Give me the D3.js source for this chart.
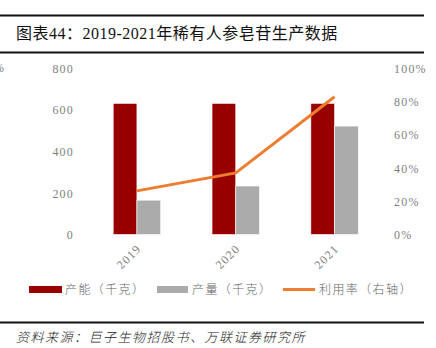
<!DOCTYPE html>
<html><head><meta charset="utf-8">
<script src="https://cdn.jsdelivr.net/npm/d3@7"></script>
<style>
html,body{margin:0;padding:0;background:#fff;}
svg{display:block;}
</style></head>
<body>
<svg id="c" width="436" height="348"></svg>
<script>
const years = ["2019", "2020", "2021"];
const capacity = [630, 630, 630];      // 产能（千克）
const output = [165, 233, 521];        // 产量（千克）
const utilization = [0.262, 0.37, 0.827]; // 利用率（右轴）
const leftTicks = [0, 200, 400, 600, 800];
const rightTicks = [0, 0.2, 0.4, 0.6, 0.8, 1.0];
const seriesNames = ["产能（千克）", "产量（千克）", "利用率（右轴）"];
const titleText = "图表44：2019-2021年稀有人参皂苷生产数据";
const sourceText = "资料来源：巨子生物招股书、万联证券研究所";

const colors = {cap: "#980000", out: "#ababab", util: "#ED7D31", text: "#7f7f7f"};
const numFont = "'Liberation Serif', 'Times New Roman', serif";
const cjkFont = "'Liberation Serif', 'Noto Sans CJK SC', serif";

const svg = d3.select("#c");

// title rules and title
svg.append("rect").attr("x", 0).attr("y", 14.5).attr("width", 424).attr("height", 2).attr("fill", "#111");
svg.append("rect").attr("x", 0).attr("y", 51.5).attr("width", 424).attr("height", 2).attr("fill", "#111");
svg.append("text").attr("x", 16).attr("y", 39).text(titleText)
  .attr("font-family", cjkFont).attr("font-size", 16).attr("letter-spacing", "0.5px")
  .attr("font-weight", 400).attr("fill", "#111");

const x = d3.scaleBand().domain(years).range([87.5, 384]).paddingInner(0.52).paddingOuter(0.26);
const yL = d3.scaleLinear().domain([0, 800]).range([234.5, 68]);
const yR = d3.scaleLinear().domain([0, 1]).range([234.5, 68]);
const xs = d3.scaleBand().domain(["cap", "out"]).range([0, x.bandwidth()]);

// left axis
const axL = svg.append("g").attr("transform", "translate(74,0)")
  .call(d3.axisLeft(yL).tickValues(leftTicks).tickSize(0).tickPadding(0).tickFormat(d3.format("d")));
axL.select(".domain").remove();
axL.selectAll("text").attr("font-family", numFont).attr("font-size", 12).attr("fill", colors.text)
  .attr("letter-spacing", "1.2px").attr("dy", "0.35em");

// right axis
const axR = svg.append("g").attr("transform", "translate(394,0)")
  .call(d3.axisRight(yR).tickValues(rightTicks).tickSize(0).tickPadding(0).tickFormat(d3.format(".0%")));
axR.select(".domain").remove();
axR.selectAll("text").attr("font-family", numFont).attr("font-size", 12).attr("fill", colors.text)
  .attr("letter-spacing", "1.2px").attr("dy", "0.35em");

// clipped % at left edge (as in the reference)
svg.append("text").attr("x", 4).attr("y", 68).attr("dy", "0.35em").attr("text-anchor", "end")
  .text("%").attr("font-family", numFont).attr("font-size", 12).attr("fill", colors.text);

// bars
const g = svg.append("g");
years.forEach((yr, i) => {
  g.append("rect").attr("x", x(yr) + xs("cap")).attr("y", yL(capacity[i]))
    .attr("width", xs.bandwidth()).attr("height", yL(0) - yL(capacity[i]))
    .attr("fill", colors.cap).attr("stroke", "#fff").attr("stroke-width", 0.6);
  g.append("rect").attr("x", x(yr) + xs("out")).attr("y", yL(output[i]))
    .attr("width", xs.bandwidth()).attr("height", yL(0) - yL(output[i]))
    .attr("fill", colors.out).attr("stroke", "#fff").attr("stroke-width", 0.6);
});

// line
const line = d3.line().x((d, i) => x(years[i]) + x.bandwidth() / 2).y(d => yR(d));
svg.append("path").datum(utilization).attr("d", line)
  .attr("fill", "none").attr("stroke", colors.util).attr("stroke-width", 3).attr("stroke-linecap", "butt");

// x axis labels rotated
const axB = svg.append("g").attr("transform", "translate(0,234.5)")
  .call(d3.axisBottom(x).tickSize(0).tickPadding(0));
axB.select(".domain").remove();
axB.selectAll("text")
  .attr("font-family", numFont).attr("font-size", 12).attr("fill", colors.text).attr("letter-spacing", "1.2px")
  .attr("text-anchor", "end").attr("dy", 0)
  .attr("transform", "translate(5,15) rotate(-45)");

// legend
const leg = svg.append("g").attr("transform", "translate(0,289.5)");
leg.append("rect").attr("x", 29).attr("y", -3.5).attr("width", 33).attr("height", 7).attr("fill", colors.cap);
leg.append("text").attr("x", 65).attr("y", 0).attr("dy", "0.35em").text(seriesNames[0]);
leg.append("rect").attr("x", 157).attr("y", -3.5).attr("width", 31).attr("height", 7).attr("fill", colors.out);
leg.append("text").attr("x", 192).attr("y", 0).attr("dy", "0.35em").text(seriesNames[1]);
leg.append("line").attr("x1", 283).attr("x2", 315).attr("y1", 0).attr("y2", 0)
  .attr("stroke", colors.util).attr("stroke-width", 3);
leg.append("text").attr("x", 319).attr("y", 0).attr("dy", "0.35em").text(seriesNames[2]);
leg.selectAll("text").attr("font-family", "'Noto Sans CJK SC', sans-serif").attr("font-size", 12)
  .attr("fill", "#666").attr("letter-spacing", "1.4px").attr("font-weight", 300);

// bottom rule and source
svg.append("rect").attr("x", 0).attr("y", 321.5).attr("width", 424).attr("height", 2).attr("fill", "#111");
svg.append("text").attr("x", 16).attr("y", 342).text(sourceText)
  .attr("font-family", "'Noto Sans CJK SC', sans-serif").attr("font-size", 13).attr("font-style", "italic")
  .attr("fill", "#222").attr("letter-spacing", "1.5px").attr("font-weight", 300);
</script>
</body></html>
